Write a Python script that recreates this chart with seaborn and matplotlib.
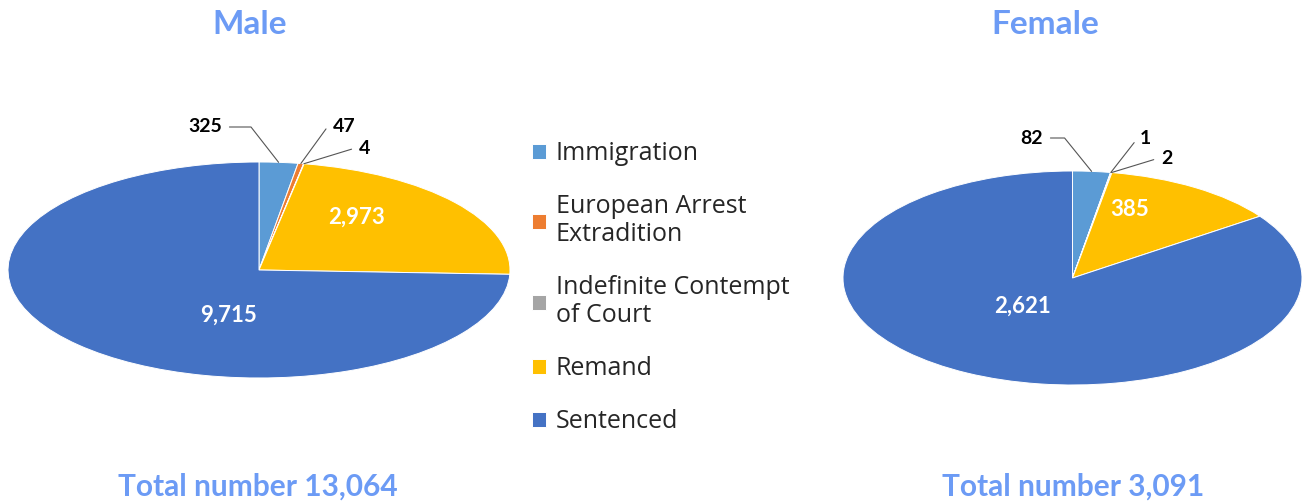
import matplotlib
matplotlib.use("Agg")
import matplotlib.pyplot as plt
import numpy as np
import seaborn as sns

# ── Data ─────────────────────────────────────────────────────────────────────
categories = ["Immigration", "European Arrest\nExtradition",
              "Indefinite Contempt\nof Court", "Remand", "Sentenced"]
male_values = [325, 47, 4, 2973, 9715]
female_values = [82, 1, 2, 385, 2621]
male_labels = ["325", "47", "4", "2,973", "9,715"]
female_labels = ["82", "1", "2", "385", "2,621"]
titles = ["Male", "Female"]
totals = ["Total number 13,064", "Total number 3,091"]

# ── Style ────────────────────────────────────────────────────────────────────
sns.set_theme(style="white")
plt.rcParams["font.family"] = ["Lato", "DejaVu Sans"]
colors = sns.color_palette(["#5B9BD5", "#ED7D31", "#A5A5A5", "#FFC000", "#4472C4"])
TITLE_COLOR = "#6C9BF5"

W, H = 1302, 503
fig = plt.figure(figsize=(W / 100, H / 100), dpi=100)


def fig_frac(x, y):
    """Top-left pixel position -> figure fraction."""
    return x / W, 1 - y / H


def pie_axes(x0, y0, x1, y1):
    return fig.add_axes([x0 / W, 1 - y1 / H, (x1 - x0) / W, (y1 - y0) / H])


# per pie: ellipse box, big-label positions (data coords), small-label setup
pies = [
    dict(values=male_values, labels=male_labels, box=(8, 162, 510, 378),
         big_pos={3: (0.39, 0.49), 4: (-0.12, -0.42)},
         small=[(0, (222, 127), "right", -52), (1, (333, 127), "left", 54),
                (2, (359, 149), "left", 17)],
         title_x=250, total_x=258),
    dict(values=female_values, labels=female_labels, box=(843, 171, 1302, 385),
         big_pos={3: (0.25, 0.64), 4: (-0.22, -0.26)},
         small=[(0, (1043, 138), "right", -51), (1, (1140, 138), "left", 52),
                (2, (1161, 158), "left", 17)],
         title_x=1045, total_x=1073),
]

wedge_handles = None
for i, p in enumerate(pies):
    ax = pie_axes(*p["box"])
    wedges, _ = ax.pie(p["values"], colors=colors, startangle=90,
                       counterclock=False, radius=1,
                       wedgeprops=dict(edgecolor="white", linewidth=0.7))
    ax.set_aspect("auto")
    ax.set_xlim(-1, 1)
    ax.set_ylim(-1, 1)
    ax.axis("off")
    if wedge_handles is None:
        wedge_handles = wedges

    for idx, (x, y) in p["big_pos"].items():
        ax.text(x, y, p["labels"][idx], ha="center", va="center",
                color="white", fontsize=16, fontweight="bold")

    for idx, (tx, ty), ha, slope in p["small"]:
        w = wedges[idx]
        mid = np.deg2rad((w.theta1 + w.theta2) / 2)
        xy = (np.cos(mid), np.sin(mid))
        ax.annotate(p["labels"][idx], xy=xy, xycoords="data",
                    xytext=fig_frac(tx, ty), textcoords="figure fraction",
                    ha=ha, va="center", fontsize=14, fontweight="bold",
                    color="black",
                    arrowprops=dict(arrowstyle="-", color="#555555", lw=0.8,
                                    shrinkA=3, shrinkB=0,
                                    connectionstyle=f"angle,angleA=0,angleB={slope},rad=0"))

    fig.text(*fig_frac(p["title_x"], 25), titles[i], ha="center", va="center",
             fontsize=24, fontweight="bold", color=TITLE_COLOR)
    fig.text(*fig_frac(p["total_x"], 487), totals[i], ha="center", va="center",
             fontsize=21.5, fontweight="bold", color=TITLE_COLOR)

# ── Legend ───────────────────────────────────────────────────────────────────
leg = fig.legend(wedge_handles, categories, loc="upper left",
                 bbox_to_anchor=fig_frac(532, 141), frameon=False,
                 prop=dict(family=["Open Sans", "DejaVu Sans"], size=18),
                 handlelength=0.55, handleheight=0.55, handletextpad=0.4,
                 labelspacing=1.12, borderpad=0, borderaxespad=0)
for t in leg.get_texts():
    t.set_color("#262626")
    t.set_linespacing(1.17)

fig.savefig("out.png", dpi=100)
